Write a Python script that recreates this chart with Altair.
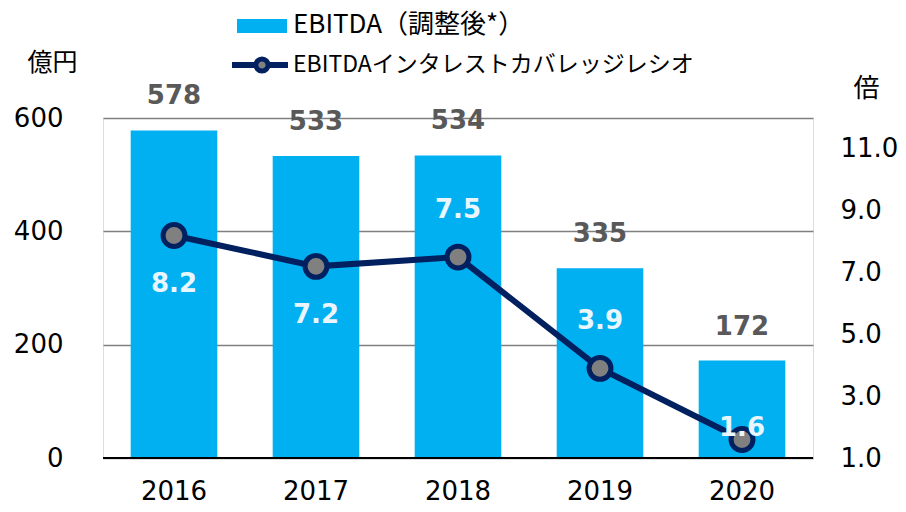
import altair as alt
import pandas as pd

years = ["2016", "2017", "2018", "2019", "2020"]
ebitda = [578, 533, 534, 335, 172]
ratio = [8.2, 7.2, 7.5, 3.9, 1.6]
left_ticks = [0, 200, 400, 600]
right_ticks = [1, 3, 5, 7, 9, 11]

df = pd.DataFrame({"year": years, "ebitda": ebitda, "ratio": ratio})

NUM_FONT = "DejaVu Sans"
JP_FONT = "Noto Sans CJK JP"
BAR_C = "#00B0F0"
LINE_C = "#002060"
FS = 26

xenc = alt.X("year:N", sort=years,
             scale=alt.Scale(paddingInner=0.39, paddingOuter=0.195),
             axis=alt.Axis(title=None, labelAngle=0, labelFont=NUM_FONT, labelFontSize=FS,
                           labelColor="#000", labelPadding=20, ticks=False, domain=False))

base = alt.Chart(df)

bars = base.mark_bar(color=BAR_C).encode(
    x=xenc,
    y=alt.Y("ebitda:Q", scale=alt.Scale(domain=[0, 600], nice=False),
            axis=alt.Axis(title="億円", titleAngle=0, titleFont=JP_FONT, titleFontSize=25,
                          titleFontWeight="normal", titleColor="#000", titleX=-51, titleY=-56,
                          titleAlign="center", titleBaseline="middle",
                          values=left_ticks, labelFont=NUM_FONT, labelFontSize=FS, labelColor="#000",
                          labelPadding=40, ticks=False, domain=False, grid=True,
                          gridColor="#808080", gridWidth=1.5)),
)

baseline = base.mark_rule(color="#000", strokeWidth=1.5).encode(
    y=alt.datum(0, scale=alt.Scale(domain=[0, 600], nice=False)),
    x=alt.value(0), x2=alt.value(710))

bar_text = base.mark_text(font=NUM_FONT, fontSize=FS, fontWeight="bold", color="#595959",
                          dy=-34, baseline="middle").encode(
    x=alt.X("year:N", sort=years), y=alt.Y("ebitda:Q"), text=alt.Text("ebitda:Q"))

bar_layer = alt.layer(bars, baseline, bar_text)

yr = alt.Y("ratio:Q", scale=alt.Scale(domain=[1, 12], nice=False),
           axis=alt.Axis(title="倍", titleAngle=0, titleFont=JP_FONT, titleFontSize=26,
                         titleFontWeight="normal", titleColor="#000", titleX=53, titleY=-30,
                         titleAlign="center", titleBaseline="middle",
                         values=right_ticks, format=".1f", labelFont=NUM_FONT, labelFontSize=FS,
                         labelColor="#000", labelPadding=27, ticks=False, domain=False,
                         grid=False, orient="right"))

line = base.mark_line(color=LINE_C, strokeWidth=6).encode(x=alt.X("year:N", sort=years), y=yr)
pts = base.mark_point(filled=True, fill="#808080", stroke=LINE_C, strokeWidth=5, size=480,
                      opacity=1).encode(x=alt.X("year:N", sort=years), y=yr)

lab_kw = dict(font=NUM_FONT, fontSize=FS, fontWeight="bold", color="#EAF6FD", baseline="middle")
below = base.transform_filter(alt.FieldOneOfPredicate(field="year", oneOf=["2016", "2017"])).mark_text(
    dy=49, **lab_kw).encode(x=alt.X("year:N", sort=years), y=yr, text=alt.Text("ratio:Q", format=".1f"))
above = base.transform_filter(alt.FieldOneOfPredicate(field="year", oneOf=["2018", "2019"])).mark_text(
    dy=-47, **lab_kw).encode(x=alt.X("year:N", sort=years), y=yr, text=alt.Text("ratio:Q", format=".1f"))
near = base.transform_filter(alt.FieldOneOfPredicate(field="year", oneOf=["2020"])).mark_text(
    dy=-11, **lab_kw).encode(x=alt.X("year:N", sort=years), y=yr, text=alt.Text("ratio:Q", format=".1f"))

line_layer = alt.layer(line, pts, below, above, near)

# legend
leg_rect = alt.Chart(pd.DataFrame({"k": [0]})).mark_rect(color=BAR_C).encode(
    x=alt.value(134), x2=alt.value(184), y=alt.value(-99), y2=alt.value(-85))
leg_t1 = alt.Chart(pd.DataFrame({"t": ["EBITDA（調整後*）"]})).mark_text(
    font=JP_FONT, fontSize=26, align="left", baseline="middle", color="#000").encode(
    x=alt.value(190), y=alt.value(-93), text="t:N")
leg_line = alt.Chart(pd.DataFrame({"k": [0]})).mark_rule(color=LINE_C, strokeWidth=6).encode(
    x=alt.value(129), x2=alt.value(185), y=alt.value(-53))
leg_pt = alt.Chart(pd.DataFrame({"k": [0]})).mark_point(
    filled=True, fill="#808080", stroke=LINE_C, strokeWidth=5, size=150, opacity=1).encode(
    x=alt.value(159), y=alt.value(-53))
leg_t2 = alt.Chart(pd.DataFrame({"t": ["EBITDAインタレストカバレッジレシオ"]})).mark_text(
    font=JP_FONT, fontSize=23, align="left", baseline="middle", color="#000").encode(
    x=alt.value(190), y=alt.value(-53), text="t:N")

chart = alt.layer(bar_layer, line_layer, leg_rect, leg_t1, leg_line, leg_pt, leg_t2).resolve_scale(
    y="independent").properties(
    width=710, height=340,
    autosize=alt.AutoSizeParams(type="none"),
    padding={"left": 95, "top": 110, "right": 85, "bottom": 46},
).configure_view(stroke=None).configure(background="white")

chart.save("out.html", embed_options={"renderer": "svg", "actions": False})
